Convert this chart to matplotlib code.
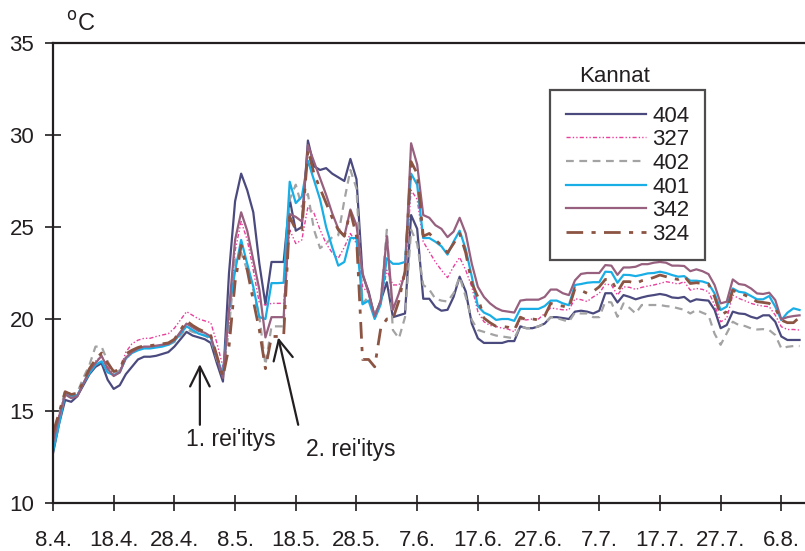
import matplotlib
matplotlib.use("Agg")
import matplotlib.pyplot as plt

plt.rcParams['font.family'] = ['Liberation Sans', 'DejaVu Sans']

# päivät 8.4. alkaen (0 = 8.4.)
tick_days = [0, 10, 20, 30, 40, 50, 60, 70, 80, 90, 100, 110, 120]
tick_labels = ["8.4.", "18.4.", "28.4.", "8.5.", "18.5.", "28.5.", "7.6.",
               "17.6.", "27.6.", "7.7.", "17.7.", "27.7.", "6.8."]

t404 = [12.7, 14.3, 15.6, 15.5, 15.8, 16.4, 17.0, 17.4, 17.6, 16.7,
        16.2, 16.4, 17.0, 17.4, 17.8, 17.95, 17.95, 18.0, 18.1, 18.2,
        18.5, 18.9, 19.3, 19.1, 19.0, 18.9, 18.7, 17.6, 16.6, 22.5,
        26.4, 27.9, 27.0, 25.8, 23.0, 20.8, 23.1, 23.1, 23.1, 26.5,
        24.8, 25.0, 29.7, 28.3, 28.1, 28.2, 27.9, 27.7, 27.5, 28.7,
        27.6, 22.4, 21.5, 20.1, 21.0, 22.0, 20.1, 20.2, 20.3, 25.65,
        24.9, 21.1, 21.1, 20.65, 20.45, 20.5, 21.2, 22.3, 21.5, 19.75,
        18.95, 18.7, 18.7, 18.7, 18.7, 18.8, 18.8, 19.6, 19.5, 19.5,
        19.6, 19.75, 20.1, 20.1, 20.05, 20.0, 20.4, 20.45, 20.4, 20.3,
        20.45, 21.4, 21.4, 20.9, 21.3, 21.2, 21.07, 21.17, 21.25, 21.3,
        21.36, 21.3, 21.17, 21.14, 21.2, 20.94, 21.07, 21.03, 21.0, 20.5,
        19.5, 19.67, 20.4, 20.3, 20.27, 20.12, 20.03, 20.2, 20.2, 19.85,
        19.05, 18.86, 18.86, 18.86]

t327 = [13.5, 14.8, 16.0, 15.8, 15.9, 16.5, 17.2, 17.7, 18.0, 17.4,
        17.0, 17.2, 18.2, 18.65, 18.85, 18.95, 18.95, 19.05, 19.13, 19.2,
        19.5, 19.95, 20.4, 20.2, 20.0, 19.9, 19.8, 18.7, 17.4, 19.5,
        23.7, 25.3, 24.3, 22.66, 20.85, 20.76, 20.85, 20.85, 20.85, 24.85,
        24.1, 24.3, 26.1, 25.75, 24.85, 24.1, 23.6, 23.3, 23.9, 24.65,
        24.1, 21.75, 21.4, 20.0, 20.85, 22.66, 21.85, 21.85, 22.5, 27.0,
        26.5, 24.2, 23.65, 23.1, 22.65, 22.25, 22.85, 23.35, 22.65, 21.75,
        20.4, 19.85, 19.65, 19.6, 19.5, 19.45, 19.3, 19.98, 19.95, 20.0,
        20.0, 20.3, 20.6, 20.55, 20.5, 20.5, 21.1, 21.05, 20.95, 21.2,
        21.39, 21.9, 21.85, 21.3, 21.75, 21.72, 21.61, 21.72, 21.79, 21.85,
        21.93, 22.03, 21.97, 21.9, 22.03, 21.57, 21.66, 21.61, 21.48, 20.76,
        19.85, 20.03, 21.3, 21.12, 20.99, 20.85, 20.76, 20.7, 20.67, 20.21,
        19.58, 19.43, 19.43, 19.4]

t402 = [13.5, 14.8, 16.1, 15.9, 16.0, 16.8, 17.5, 18.5, 18.5, 17.7,
        17.1, 17.2, 17.9, 18.2, 18.35, 18.45, 18.45, 18.5, 18.55, 18.6,
        18.75, 19.1, 19.45, 19.3, 19.2, 19.1, 18.9, 17.8, 16.9, 19.5,
        23.2, 23.6, 22.66, 21.57, 20.13, 17.5, 19.6, 19.6, 19.6, 26.5,
        27.3, 26.1, 26.8, 24.85, 23.85, 24.1, 24.45, 24.55, 26.45, 28.1,
        27.1, 20.85, 21.2, 20.3, 20.85, 24.85, 19.4, 18.95, 20.1, 24.85,
        24.1, 21.85, 21.6, 21.1, 21.0, 20.95, 21.4, 22.3, 21.2, 19.95,
        19.4, 19.3, 19.2, 19.1, 19.05, 19.0, 18.95, 19.6, 19.5, 19.5,
        19.6, 19.75, 20.1, 20.05, 19.95, 19.85, 20.35, 20.3, 20.3, 20.1,
        20.1, 20.94, 20.9, 20.12, 20.85, 20.6, 20.3, 20.76, 20.76, 20.76,
        20.76, 20.7, 20.67, 20.58, 20.5, 20.3, 20.49, 20.34, 20.21, 19.2,
        18.6, 19.22, 19.85, 19.67, 19.62, 19.49, 19.43, 19.45, 19.4, 19.13,
        18.4, 18.49, 18.53, 18.53]

t401 = [12.8, 14.3, 15.9, 15.8, 15.85, 16.5, 17.05, 17.5, 17.7, 17.1,
        16.95, 17.1, 17.85, 18.15, 18.3, 18.4, 18.4, 18.45, 18.5, 18.6,
        18.8, 19.2, 19.6, 19.4, 19.2, 19.1, 19.0, 17.9, 17.0, 20.5,
        22.6, 24.3, 23.0, 21.75, 20.1, 20.0, 21.95, 21.95, 21.97, 27.46,
        26.3, 26.65, 28.6, 27.55, 26.5, 25.0, 23.9, 22.9, 23.1, 24.4,
        24.4, 20.8, 21.0, 20.0, 20.8, 23.3, 23.0, 23.0, 23.1, 27.9,
        27.3, 24.4, 24.4, 24.2, 23.95, 23.5, 24.2, 24.8, 23.8, 22.3,
        20.7, 20.35, 20.2, 19.95, 20.0, 20.0, 19.9, 20.55, 20.55, 20.55,
        20.55, 20.7, 21.0, 21.0, 20.85, 20.75, 21.85, 21.9, 21.97, 22.0,
        22.0, 22.57, 22.55, 21.97, 22.4, 22.39, 22.33, 22.4, 22.48, 22.5,
        22.57, 22.5, 22.39, 22.3, 22.33, 22.08, 22.08, 22.04, 21.93, 21.39,
        20.49, 20.67, 21.66, 21.48, 21.43, 21.25, 21.07, 21.07, 21.25, 20.67,
        19.94, 20.34, 20.58, 20.49]

t342 = [13.3, 14.7, 15.9, 15.7, 15.8, 16.5, 17.2, 17.6, 18.0, 17.3,
        16.9, 17.1, 17.9, 18.2, 18.4, 18.5, 18.5, 18.55, 18.6, 18.65,
        18.85, 19.3, 19.75, 19.55, 19.35, 19.25, 19.05, 17.9, 16.8, 20.5,
        24.3, 25.8, 24.8, 23.2, 21.6, 19.0, 20.1, 20.1, 20.1, 25.7,
        25.55, 25.3, 29.45, 28.55, 27.65, 26.75, 25.75, 24.9, 24.5, 25.95,
        25.1, 22.5, 21.4, 20.15, 21.0, 24.5, 20.5, 21.4, 22.5, 29.55,
        28.4, 25.65, 25.5, 25.1, 24.9, 24.45, 24.75, 25.5, 24.65, 23.0,
        21.75, 21.2, 20.85, 20.6, 20.45, 20.4, 20.35, 21.0, 21.05, 21.05,
        21.05, 21.2, 21.6, 21.6, 21.4, 21.3, 22.1, 22.45, 22.5, 22.5,
        22.5, 22.93, 22.9, 22.4, 22.8, 22.8, 22.84, 22.98, 22.98, 23.06,
        23.1, 23.06, 22.9, 22.9, 22.88, 22.6, 22.7, 22.6, 22.44, 21.85,
        20.85, 20.94, 22.15, 21.9, 21.85, 21.66, 21.39, 21.36, 21.43, 21.03,
        19.98, 20.1, 20.16, 20.2]

t324 = [13.8, 14.9, 16.05, 15.9, 15.95, 16.6, 17.3, 17.8, 18.15, 17.6,
        17.15, 17.25, 18.1, 18.3, 18.45, 18.55, 18.55, 18.6, 18.65, 18.7,
        18.9, 19.4, 19.9, 19.65, 19.45, 19.3, 19.1, 18.0, 16.85, 18.5,
        22.0, 24.0, 22.66, 21.0, 19.4, 17.3, 19.05, 19.05, 19.05, 25.56,
        24.85, 24.85, 29.2, 27.9, 27.1, 26.3, 25.5, 24.85, 24.5, 25.85,
        24.5, 17.8, 17.8, 17.4, 19.5, 20.0, 20.0, 21.0, 22.6, 28.55,
        27.9, 24.5, 24.65, 24.3, 24.0, 23.6, 24.1, 24.65, 23.6, 21.95,
        21.2, 20.05, 19.8, 19.6, 19.6, 19.55, 19.4, 20.1, 19.95, 20.0,
        19.95, 20.15, 20.85, 20.75, 20.7, 20.6, 21.65, 21.55, 21.4, 21.5,
        21.75, 22.15, 22.12, 21.48, 22.03, 22.03, 21.93, 22.08, 22.15, 22.26,
        22.39, 22.3, 22.21, 22.15, 22.33, 21.93, 21.97, 21.93, 21.9, 21.21,
        20.21, 20.4, 21.57, 21.39, 21.3, 21.12, 20.94, 20.9, 20.85, 20.58,
        19.94, 19.8, 19.8, 20.1]

series = [
    ("404", t404, dict(color="#4b4a7e", lw=1.6, ls="-")),
    ("327", t327, dict(color="#e8409c", lw=1.0, ls=(0, (3, 1.5, 1, 1.5, 1, 1.5)))),
    ("402", t402, dict(color="#a3a3a3", lw=1.6, ls=(0, (3.5, 2.5)))),
    ("401", t401, dict(color="#1aaee6", lw=1.6, ls="-")),
    ("342", t342, dict(color="#96607e", lw=1.6, ls="-")),
    ("324", t324, dict(color="#8c5442", lw=2.0, ls=(0, (6, 3, 1.5, 3)))),
]

W, H = 805, 551
fig = plt.figure(figsize=(W / 100, H / 100), dpi=100)
ax = fig.add_axes([53 / W, 48 / H, 752 / W, 460 / H])

for name, vals, st in series:
    ax.plot(range(len(vals)), vals, label=name, **st)

ax.set_xlim(0, 123.9)
ax.set_ylim(10, 35)
ax.set_xticks(tick_days)
ax.set_xticklabels(tick_labels)
ax.set_yticks([10, 15, 20, 25, 30, 35])

txt = "#231f20"
for s in ["left", "bottom", "top"]:
    ax.spines[s].set_linewidth(1.6)
    ax.spines[s].set_color(txt)
ax.spines["right"].set_visible(False)
ax.tick_params(axis="both", direction="inout", length=11, width=1.2,
               colors=txt, labelsize=16)
ax.tick_params(axis="x", pad=14)
ax.tick_params(axis="y", pad=8)

# rei'itys-merkinnät
arrow = dict(arrowstyle="->,head_length=0.65,head_width=0.32", color=txt,
             lw=1.6, mutation_scale=22, shrinkA=0, shrinkB=0)
ax.annotate("", xy=(24.2, 17.55), xytext=(24.2, 14.25), arrowprops=arrow)
ax.text(29.3, 13.45, "1. rei'itys", fontsize=16.5, color=txt, ha="center", va="center")
ax.annotate("", xy=(37.1, 19.0), xytext=(40.4, 14.25), arrowprops=arrow)
ax.text(49.1, 12.9, "2. rei'itys", fontsize=16.5, color=txt, ha="center", va="center")

leg = ax.legend(loc="upper left", bbox_to_anchor=(550 / W, 1 - 90 / H),
                bbox_transform=fig.transFigure, borderaxespad=0,
                fontsize=16, frameon=True, fancybox=False, borderpad=0.7,
                handlelength=3.6, handletextpad=0.3, labelspacing=0.12)
fr = leg.get_frame()
fr.set_edgecolor(txt)
fr.set_linewidth(1.6)
for t in leg.get_texts():
    t.set_color(txt)

fig.text(579 / W, 1 - 76 / H, "Kannat", fontsize=16, color=txt, va="center")
fig.text(66 / W, 1 - 24 / H, r"$^{\mathrm{o}}$C", fontsize=17, color=txt, va="center")

fig.savefig("out.png", dpi=100)
